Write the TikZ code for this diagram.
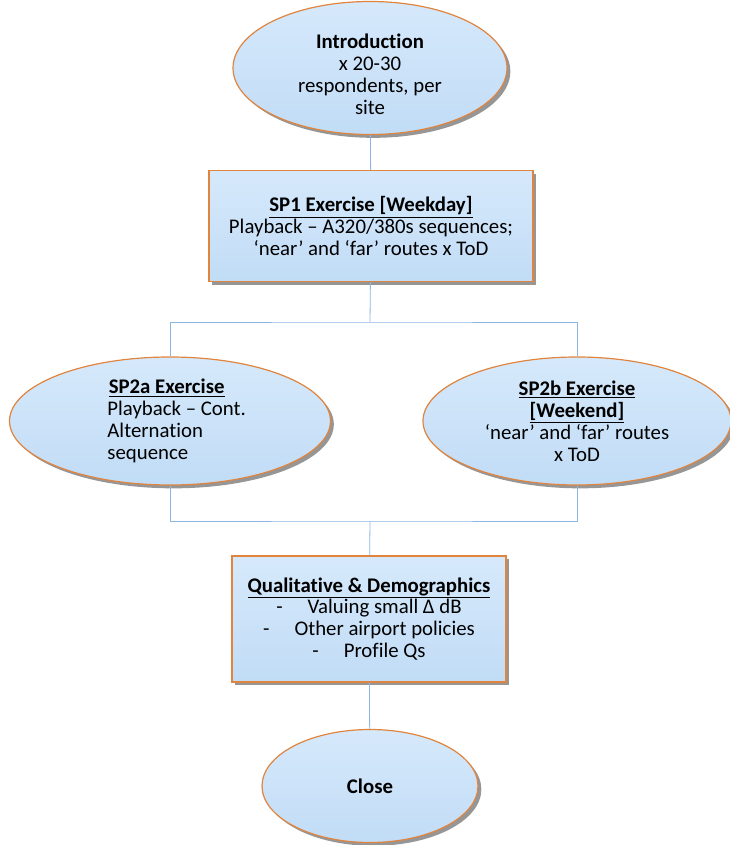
\documentclass[tikz,border=0pt]{standalone}
\usepackage{fontspec}
\setmainfont{Carlito}[Ligatures=NoCommon]
\usetikzlibrary{shapes.geometric,shadows}
\definecolor{boxblue}{RGB}{193,220,246}
\definecolor{boxtop}{RGB}{214,233,251}
\definecolor{boxedge}{RGB}{224,132,62}
\definecolor{linkblue}{RGB}{141,180,226}
\tikzset{
  stage/.style={draw=boxedge, line width=0.9pt, top color=boxtop, bottom color=boxblue,
    drop shadow={shadow xshift=2.5pt, shadow yshift=-2.5pt, opacity=0.55, fill=black!75},
    inner sep=0pt, align=center},
  roundstage/.style={stage, ellipse, inner sep=-4pt},
  boxstage/.style={stage, rectangle},
  link/.style={draw=linkblue, line width=0.6pt}
}
\begin{document}
\begin{tikzpicture}[x=0.75pt, y=-0.75pt, font=\fontsize{15.6}{16.4}\selectfont]
	\useasboundingbox (0,0) rectangle (729,845);
	\path
	(370,521) coordinate (J2)
	(370,322) coordinate (J1)
	;
	\node[roundstage, minimum width=205.5pt, minimum height=99.75pt] (intro) at (370,68)
		{\rule{0pt}{8pt}\\[-4pt]\textbf{Introduction}\\x 20-30\\respondents, per\\site};
	\node[boxstage, minimum width=243pt, minimum height=83.25pt] (sp1) at (371,226)
		{\underline{\textbf{SP1 Exercise [Weekday]}}\\Playback – A320/380s sequences;\\‘near’ and ‘far’ routes x ToD};
	\node[roundstage, minimum width=240.75pt, minimum height=96pt, align=left] (sp2a) at (170,421)
		{\hspace*{11pt}\underline{\textbf{SP2a Exercise}}\\\hspace*{10pt}Playback – Cont.\\\hspace*{10pt}Alternation\\\hspace*{10pt}sequence};
	\node[roundstage, minimum width=231pt, minimum height=96pt] (sp2b) at (577,421)
		{\underline{\textbf{SP2b Exercise}}\\\underline{\textbf{[Weekend]}}\\‘near’ and ‘far’ routes\\x ToD};
	\node[boxstage, minimum width=205.5pt, minimum height=94.5pt] (qual) at (369,619)
		{\underline{\textbf{Qualitative \& Demographics}}\\-\hspace{1.2em}Valuing small Δ dB\\-\hspace{1.2em}Other airport policies\\-\hspace{1.2em}Profile Qs};
	\node[roundstage, minimum width=162pt, minimum height=84.75pt] (close) at (370,786)
		{\textbf{Close}};

	\draw[link] (intro) -- (sp1);
	\draw[link] (sp1) -- (J1);
	\draw[link] (sp2a) |- (J1) -| (sp2b);
	\draw[link] (sp2a) |- (J2) -| (sp2b);
	\draw[link] (J2) -- (qual);
	\draw[link] (qual) -- (close);
\end{tikzpicture}
\end{document}
